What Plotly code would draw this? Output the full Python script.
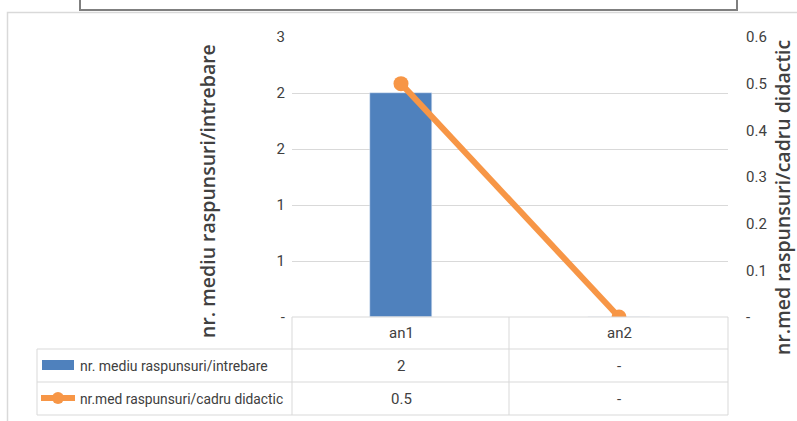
import plotly.graph_objects as go

categories = ["an1", "an2"]
bar_name = "nr. mediu raspunsuri/intrebare"
line_name = "nr.med raspunsuri/cadru didactic"
bar_values = [2, 0]
line_values = [0.5, 0]

left_tickvals = [0, 0.5, 1, 1.5, 2, 2.5]
left_ticktext = ["-", "1", "1", "2", "2", "3"]
right_tickvals = [0, 0.1, 0.2, 0.3, 0.4, 0.5, 0.6]
right_ticktext = ["-", "0.1", "0.2", "0.3", "0.4", "0.5", "0.6"]

W, H = 797, 421
L, R, T, B = 292, 728, 37, 317

def px(x):
    return (x - L) / (R - L)

def py(y):
    return (B - y) / (B - T)

def fmt(v):
    return "-" if not v else f"{v:g}"

BLUE = "#4F81BD"
ORANGE = "#F79646"
GRID = "#D9D9D9"
TXT = "#404040"
NARROW = "Roboto, Liberation Sans Narrow, sans-serif"
TITLEF = "Open Sans, DejaVu Sans, sans-serif"

fig = go.Figure()
fig.add_trace(go.Bar(x=categories, y=bar_values, name=bar_name, marker_color=BLUE,
                     width=0.285, yaxis="y"))
fig.add_trace(go.Scatter(x=categories, y=line_values, name=line_name, mode="lines+markers",
                         line=dict(color=ORANGE, width=6),
                         marker=dict(color=ORANGE, size=15), yaxis="y2"))

shapes = []
def hline(x0, x1, y, color=GRID, w=1):
    shapes.append(dict(type="line", xref="paper", yref="paper", x0=px(x0), x1=px(x1),
                       y0=py(y), y1=py(y), line=dict(color=color, width=w)))
def vline(x, y0, y1, color=GRID, w=1):
    shapes.append(dict(type="line", xref="paper", yref="paper", x0=px(x), x1=px(x),
                       y0=py(y0), y1=py(y1), line=dict(color=color, width=w)))

# outer chart border
shapes.append(dict(type="rect", xref="paper", yref="paper", x0=px(7.5), x1=px(805),
                   y0=py(12.5), y1=py(430), line=dict(color=GRID, width=1.5)))
# top box
shapes.append(dict(type="rect", xref="paper", yref="paper", x0=px(80), x1=px(737),
                   y0=py(-10), y1=py(10), line=dict(color="#7F7F7F", width=2)))

# data table
hline(292, 728, 317)
for y in (349, 382, 415):
    hline(37, 728, y)
vline(37, 349, 415)
for x in (292, 509, 728):
    vline(x, 317, 415)

# legend keys
shapes.append(dict(type="rect", xref="paper", yref="paper", x0=px(42), x1=px(74),
                   y0=py(360), y1=py(370), line=dict(width=0), fillcolor=BLUE))
shapes.append(dict(type="line", xref="paper", yref="paper", x0=px(41), x1=px(75),
                   y0=py(398), y1=py(398), line=dict(color=ORANGE, width=6)))
shapes.append(dict(type="circle", xref="paper", yref="paper", x0=px(52), x1=px(64),
                   y0=py(392), y1=py(404), line=dict(width=0), fillcolor=ORANGE))

ann = []
def text(x, y, s, xref="paper", anchor="center", size=14, font=NARROW, angle=0, weight=None):
    f = dict(family=font, size=size, color=TXT)
    if weight:
        f["weight"] = weight
    ann.append(dict(x=x if xref != "paper" else px(x), y=py(y), xref=xref, yref="paper",
                    text=s, showarrow=False, xanchor=anchor, yanchor="middle",
                    textangle=angle, font=f))

for i, c in enumerate(categories):
    text(c, 333, c, xref="x", size=15)
    text(c, 366, fmt(bar_values[i]), xref="x", size=15)
    text(c, 399, fmt(line_values[i]), xref="x", size=15)
text(78, 366, bar_name, anchor="left", size=14)
text(78, 399, line_name, anchor="left", size=13.8)

text(207, 191, bar_name, size=19.5, font=TITLEF, angle=-90, weight=600)
text(782, 197, line_name, size=19.5, font=TITLEF, angle=-90, weight=600)

fig.update_layout(
    width=W, height=H,
    margin=dict(l=L, r=W - R, t=T, b=H - B, pad=0),
    paper_bgcolor="white", plot_bgcolor="white",
    showlegend=False,
    bargap=0,
    shapes=shapes, annotations=ann,
    xaxis=dict(type="category", range=[-0.5, 1.5], showticklabels=False,
               showgrid=False, zeroline=False, showline=False),
    yaxis=dict(range=[0, 2.5], tickvals=left_tickvals, ticktext=left_ticktext,
               showgrid=True, gridcolor=GRID, gridwidth=1, zeroline=False,
               showline=False, ticks="", ticklabelstandoff=6,
               tickfont=dict(family=NARROW, size=15, color=TXT)),
    yaxis2=dict(range=[0, 0.6], tickvals=right_tickvals, ticktext=right_ticktext,
                overlaying="y", side="right", showgrid=False, zeroline=False,
                showline=False, ticks="", ticklabelstandoff=17,
                tickfont=dict(family=NARROW, size=15, color=TXT)),
)

fig.write_html("out.html", config={"displayModeBar": False},
               post_script="document.body.style.margin='0';document.body.style.overflow='hidden';")
